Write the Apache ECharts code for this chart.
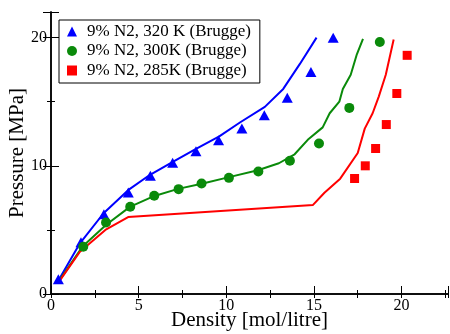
<!DOCTYPE html>
<html>
<head>
<meta charset="utf-8">
<script src="https://cdn.jsdelivr.net/npm/echarts@6/dist/echarts.min.js"></script>
<style>html,body{margin:0;padding:0;background:#fff}#c{width:450px;height:334px}</style>
</head>
<body>
<div id="c"></div>
<script>
// Data (density mol/litre, pressure MPa)
const tri320 = [[0.42,1.15],[1.71,4.03],[3.02,6.23],[4.41,7.92],[5.67,9.22],[6.94,10.23],[8.27,11.14],[9.56,12.0],[10.89,12.91],[12.17,13.95],[13.48,15.32],[14.83,17.32],[16.10,20.0]];
const circ300 = [[1.84,3.69],[3.14,5.58],[4.52,6.81],[5.89,7.66],[7.28,8.18],[8.59,8.62],[10.15,9.06],[11.83,9.56],[13.63,10.39],[15.29,11.74],[17.02,14.52],[18.76,19.66]];
const sq285 = [[17.32,9.01],[17.93,10.0],[18.52,11.35],[19.13,13.22],[19.73,15.64],[20.32,18.62]];
const line320 = [[0.4,1.0],[1.65,3.95],[3.0,6.3],[4.4,8.1],[5.65,9.3],[7.0,10.35],[8.3,11.35],[9.6,12.3],[10.8,13.4],[12.2,14.6],[13.25,16.0],[14.2,17.95],[15.15,20.0]];
const line300 = [[0.45,1.0],[1.8,3.7],[3.15,5.4],[4.5,6.8],[5.9,7.65],[7.25,8.2],[8.6,8.6],[10.1,9.1],[11.8,9.65],[13.0,10.2],[13.9,10.9],[14.7,12.1],[15.5,13.0],[15.9,14.1],[16.45,15.0],[16.65,16.0],[17.1,17.1],[17.45,18.7],[17.8,19.9]];
const line285 = [[0.45,0.95],[1.65,3.3],[3.1,5.0],[4.4,6.0],[14.95,6.95],[15.6,7.9],[16.5,9.0],[17.5,11.0],[17.9,12.9],[18.35,14.1],[18.7,15.4],[19.1,17.1],[19.55,19.85]];
const legendNames = ['9% N2, 320 K (Brugge)','9% N2, 300K (Brugge)','9% N2, 285K (Brugge)'];
const xTitle = 'Density [mol/litre]';
const yTitle = 'Pressure [MPa]';

const FONT = '"Liberation Serif","DejaVu Serif",serif';
const BLUE = '#0000ff', GREEN = '#0a8a0a', RED = '#ff0000';

const axisBase = {
  type: 'value',
  axisLine: {show: true, lineStyle: {color: '#000', width: 1.5}},
  axisTick: {show: true, inside: true, length: 8, lineStyle: {color: '#000', width: 1}},
  minorTick: {show: true, splitNumber: 2, length: 4, lineStyle: {color: '#000', width: 1}},
  splitLine: {show: false},
  minorSplitLine: {show: false}
};

const chart = echarts.init(document.getElementById('c'), null, {renderer: 'canvas'});
chart.setOption({
  animation: false,
  backgroundColor: '#fff',
  grid: {left: 51, top: 12, right: 2, bottom: 40, containLabel: false, outerBoundsMode: 'none'},
  legend: {
    orient: 'vertical', left: 59, top: 20,
    padding: [3, 9, 4, 8],
    itemWidth: 10, itemHeight: 10, itemGap: 2.5,
    backgroundColor: '#fff', borderColor: '#000', borderWidth: 1, borderRadius: 0,
    textStyle: {fontFamily: FONT, fontSize: 17, color: '#000', lineHeight: 17, padding: [0, 0, 0, 5]},
    data: legendNames
  },
  xAxis: [
    Object.assign({}, axisBase, {
      min: 0, max: 22.65, interval: 5, position: 'bottom',
      name: xTitle, nameLocation: 'middle', nameGap: 16, nameMoveOverlap: false,
      nameTextStyle: {fontFamily: FONT, fontSize: 21, color: '#000'},
      axisLabel: {fontFamily: FONT, fontSize: 16, color: '#000', margin: 4, showMaxLabel: false}
    }),
    Object.assign({}, axisBase, {
      min: 0, max: 22.65, interval: 5, position: 'top',
      axisTick: {show: true, inside: true, length: 4, lineStyle: {color: '#000'}},
      axisLabel: {show: false}
    })
  ],
  yAxis: [
    Object.assign({}, axisBase, {
      min: 0, max: 22, interval: 10, position: 'left',
      name: yTitle, nameLocation: 'middle', nameGap: 23, nameMoveOverlap: false,
      nameTextStyle: {fontFamily: FONT, fontSize: 21, color: '#000'},
      axisLabel: {fontFamily: FONT, fontSize: 16, color: '#000', margin: 4, showMaxLabel: false}
    }),
    Object.assign({}, axisBase, {
      min: 0, max: 22, interval: 10, position: 'right',
      axisLabel: {show: false}
    })
  ],
  series: [
    {type: 'line', data: line320, symbol: 'none', lineStyle: {color: BLUE, width: 2}, itemStyle: {color: BLUE}, z: 2},
    {type: 'line', data: line300, symbol: 'none', lineStyle: {color: GREEN, width: 2}, itemStyle: {color: GREEN}, z: 2},
    {type: 'line', data: line285, symbol: 'none', lineStyle: {color: RED, width: 2}, itemStyle: {color: RED}, z: 2},
    {name: legendNames[0], type: 'scatter', data: tri320, symbol: 'triangle', symbolSize: [11, 10], itemStyle: {color: BLUE, opacity: 1}, z: 3},
    {name: legendNames[1], type: 'scatter', data: circ300, symbol: 'circle', symbolSize: 10, itemStyle: {color: GREEN, opacity: 1}, z: 3},
    {name: legendNames[2], type: 'scatter', data: sq285, symbol: 'rect', symbolSize: 9, itemStyle: {color: RED, opacity: 1}, z: 3}
  ]
});
</script>
</body>
</html>
